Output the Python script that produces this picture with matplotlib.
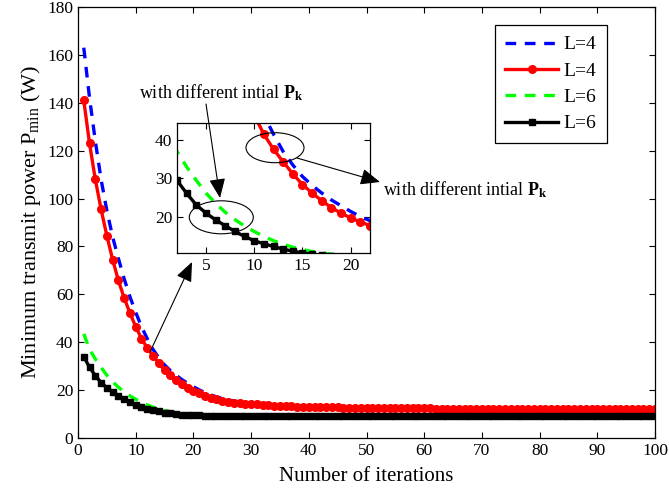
import numpy as np
import matplotlib
matplotlib.use('Agg')
import matplotlib.pyplot as plt
from matplotlib.patches import Ellipse, FancyArrowPatch

plt.rcParams['font.family'] = ['Liberation Serif', 'DejaVu Serif']
plt.rcParams['mathtext.fontset'] = 'custom'
plt.rcParams['mathtext.rm'] = 'Liberation Serif'
plt.rcParams['mathtext.it'] = 'Liberation Serif:italic'
plt.rcParams['mathtext.bf'] = 'Liberation Serif:bold'

# iterations 1..100
iterations = list(range(1, 101))

# tail values (where the two curves of each L coincide)
tail_L4 = [14.0, 13.85, 13.7, 13.55, 13.4, 13.3, 13.2, 13.1, 13.05, 13.0,
           12.95, 12.9, 12.85, 12.8, 12.75, 12.7, 12.68, 12.65, 12.62, 12.6,
           12.57, 12.55, 12.52, 12.5, 12.48, 12.46, 12.44, 12.42, 12.4, 12.36,
           12.34, 12.32, 12.3, 12.29, 12.27, 12.26, 12.24, 12.23, 12.22, 12.2,
           12.19, 12.18, 12.17, 12.16, 12.15, 12.14, 12.13, 12.12, 12.11, 12.1,
           12.09, 12.08, 12.07, 12.06, 12.06, 12.05, 12.05, 12.04, 12.04, 12.03,
           12.03, 12.02, 12.02, 12.02, 12.01, 12.01, 12.01, 12.0, 12.0, 12.0]
tail_L6 = [9.04, 9.04, 9.03, 9.03, 9.03, 9.03, 9.02, 9.02, 9.02, 9.02,
           9.02, 9.02, 9.01, 9.01, 9.01, 9.01, 9.01, 9.01, 9.01, 9.01,
           9.0, 9.0, 9.0, 9.0, 9.0, 9.0, 9.0, 9.0, 9.0, 9.0,
           9.0, 9.0, 9.0, 9.0, 9.0, 9.0, 9.0, 9.0, 9.0, 9.0,
           9.0, 9.0, 9.0, 9.0, 9.0, 9.0, 9.0, 9.0, 9.0, 9.0,
           9.0, 9.0, 9.0, 9.0, 9.0, 9.0, 9.0, 9.0, 9.0, 9.0,
           9.0, 9.0, 9.0, 9.0, 9.0, 9.0, 9.0, 9.0, 9.0, 9.0]

# L=4, dashed blue
blue_L4 = [163, 142, 124, 108, 95, 84, 75, 66.5, 59, 52.5,
           46.5, 41.5, 37.0, 33.5, 30.5, 28.2, 26.2, 24.4, 22.9, 21.4,
           20.1, 19.0, 18.0, 17.2, 16.5, 15.9, 15.4, 15.0, 14.6, 14.3] + tail_L4
# L=4, red with circles
red_L4 = [141, 123, 108, 95.5, 84.5, 74.5, 65.8, 58.5, 52.2, 46.5,
          41.5, 37.6, 34.3, 31.2, 28.4, 26.2, 24.2, 22.4, 21.0, 19.7,
          18.7, 17.7, 16.9, 16.2, 15.6, 15.1, 14.8, 14.5, 14.3, 14.15] + tail_L4
# L=6, dashed green
green_L6 = [43.5, 37.0, 33.0, 29.5, 26.2, 23.5, 21.2, 19.3, 17.6, 16.2,
            14.9, 13.8, 12.9, 12.1, 11.5, 11.0, 10.6, 10.3, 10.0, 9.8,
            9.65, 9.5, 9.4, 9.3, 9.25, 9.2, 9.15, 9.1, 9.07, 9.05] + tail_L6
# L=6, black with squares
black_L6 = [34.0, 29.5, 26.1, 23.1, 21.0, 19.2, 17.7, 16.2, 14.9, 13.8,
            13.0, 12.3, 11.6, 11.1, 10.6, 10.3, 10.0, 9.8, 9.6, 9.5,
            9.4, 9.3, 9.25, 9.2, 9.15, 9.12, 9.1, 9.08, 9.06, 9.05] + tail_L6

labels = ['L=4', 'L=4', 'L=6', 'L=6']
ann_text = r'with different intial $\mathbf{P}_{\mathbf{k}}$'

W, H = 669, 488
fig = plt.figure(figsize=(W / 100, H / 100), dpi=100)

def px(x, y):
    # image pixel (top-left origin) -> figure fraction
    return x / W, 1 - y / H

ax = fig.add_axes([78 / W, 1 - 438 / H, 577 / W, 431 / H])
ins = fig.add_axes([177 / W, 1 - 253 / H, 193 / W, 130.3 / H])

def draw(a, lw=2.4, ms=5.5):
    h1, = a.plot(iterations, blue_L4, color='#0000ff', lw=lw, ls=(0, (3.2, 2.6)))
    h2, = a.plot(iterations, red_L4, color='#ff0000', lw=lw, marker='o', ms=ms)
    h3, = a.plot(iterations, green_L6, color='#00ff00', lw=lw, ls=(0, (3.2, 2.6)))
    h4, = a.plot(iterations, black_L6, color='k', lw=lw, marker='s', ms=ms - 0.7)
    return [h1, h2, h3, h4]

handles = draw(ax)
draw(ins)

for a in (ax, ins):
    a.tick_params(direction='in', top=True, right=True, labelsize=12.5, length=4, width=0.8)
    for s in a.spines.values():
        s.set_linewidth(0.9)

ax.set_xlim(0, 100)
ax.set_ylim(0, 180)
ax.set_xticks(np.arange(0, 101, 10))
ax.set_yticks(np.arange(0, 181, 20))
ax.set_xlabel('Number of iterations', fontsize=15, labelpad=6)
ax.set_ylabel(r'Minimum transmit power P$_{\rm min}$ (W)', fontsize=16, labelpad=3)

ins.set_xlim(2, 22)
ins.set_ylim(10.6, 44.5)
ins.set_xticks([5, 10, 15, 20])
ins.set_yticks([20, 30, 40])

leg = ax.legend(handles, labels, loc='upper right', bbox_to_anchor=(0.917, 0.958),
                borderaxespad=0, fontsize=14, fancybox=False, edgecolor='k', framealpha=1,
                handlelength=2.7, labelspacing=0.45, borderpad=0.55, handletextpad=0.3)
leg.get_frame().set_linewidth(0.9)

# ellipses marking the zoomed regions
for cx, cy, w, h in [(221.3, 217.3, 64, 33), (275, 147.7, 58, 30)]:
    e = Ellipse(px(cx, cy), w / W, h / H, transform=fig.transFigure,
                fill=False, ec='k', lw=0.8, zorder=5)
    fig.add_artist(e)

fig.text(*px(139, 98), ann_text, fontsize=13, va='baseline', ha='left')
fig.text(*px(383, 195), ann_text, fontsize=13, va='baseline', ha='left')

# arrows: (start, tip) in image pixels
arrows = [((206, 104), (220, 198)), ((150, 352), (192, 262)), ((297, 158), (380, 182))]
for start, tip in arrows:
    arr = FancyArrowPatch(px(*start), px(*tip), transform=fig.transFigure,
                          arrowstyle='-|>,head_length=0.6,head_width=0.25',
                          mutation_scale=20, color='k', lw=0.8,
                          shrinkA=0, shrinkB=0, zorder=6)
    fig.add_artist(arr)

fig.savefig('out.png', dpi=100)
